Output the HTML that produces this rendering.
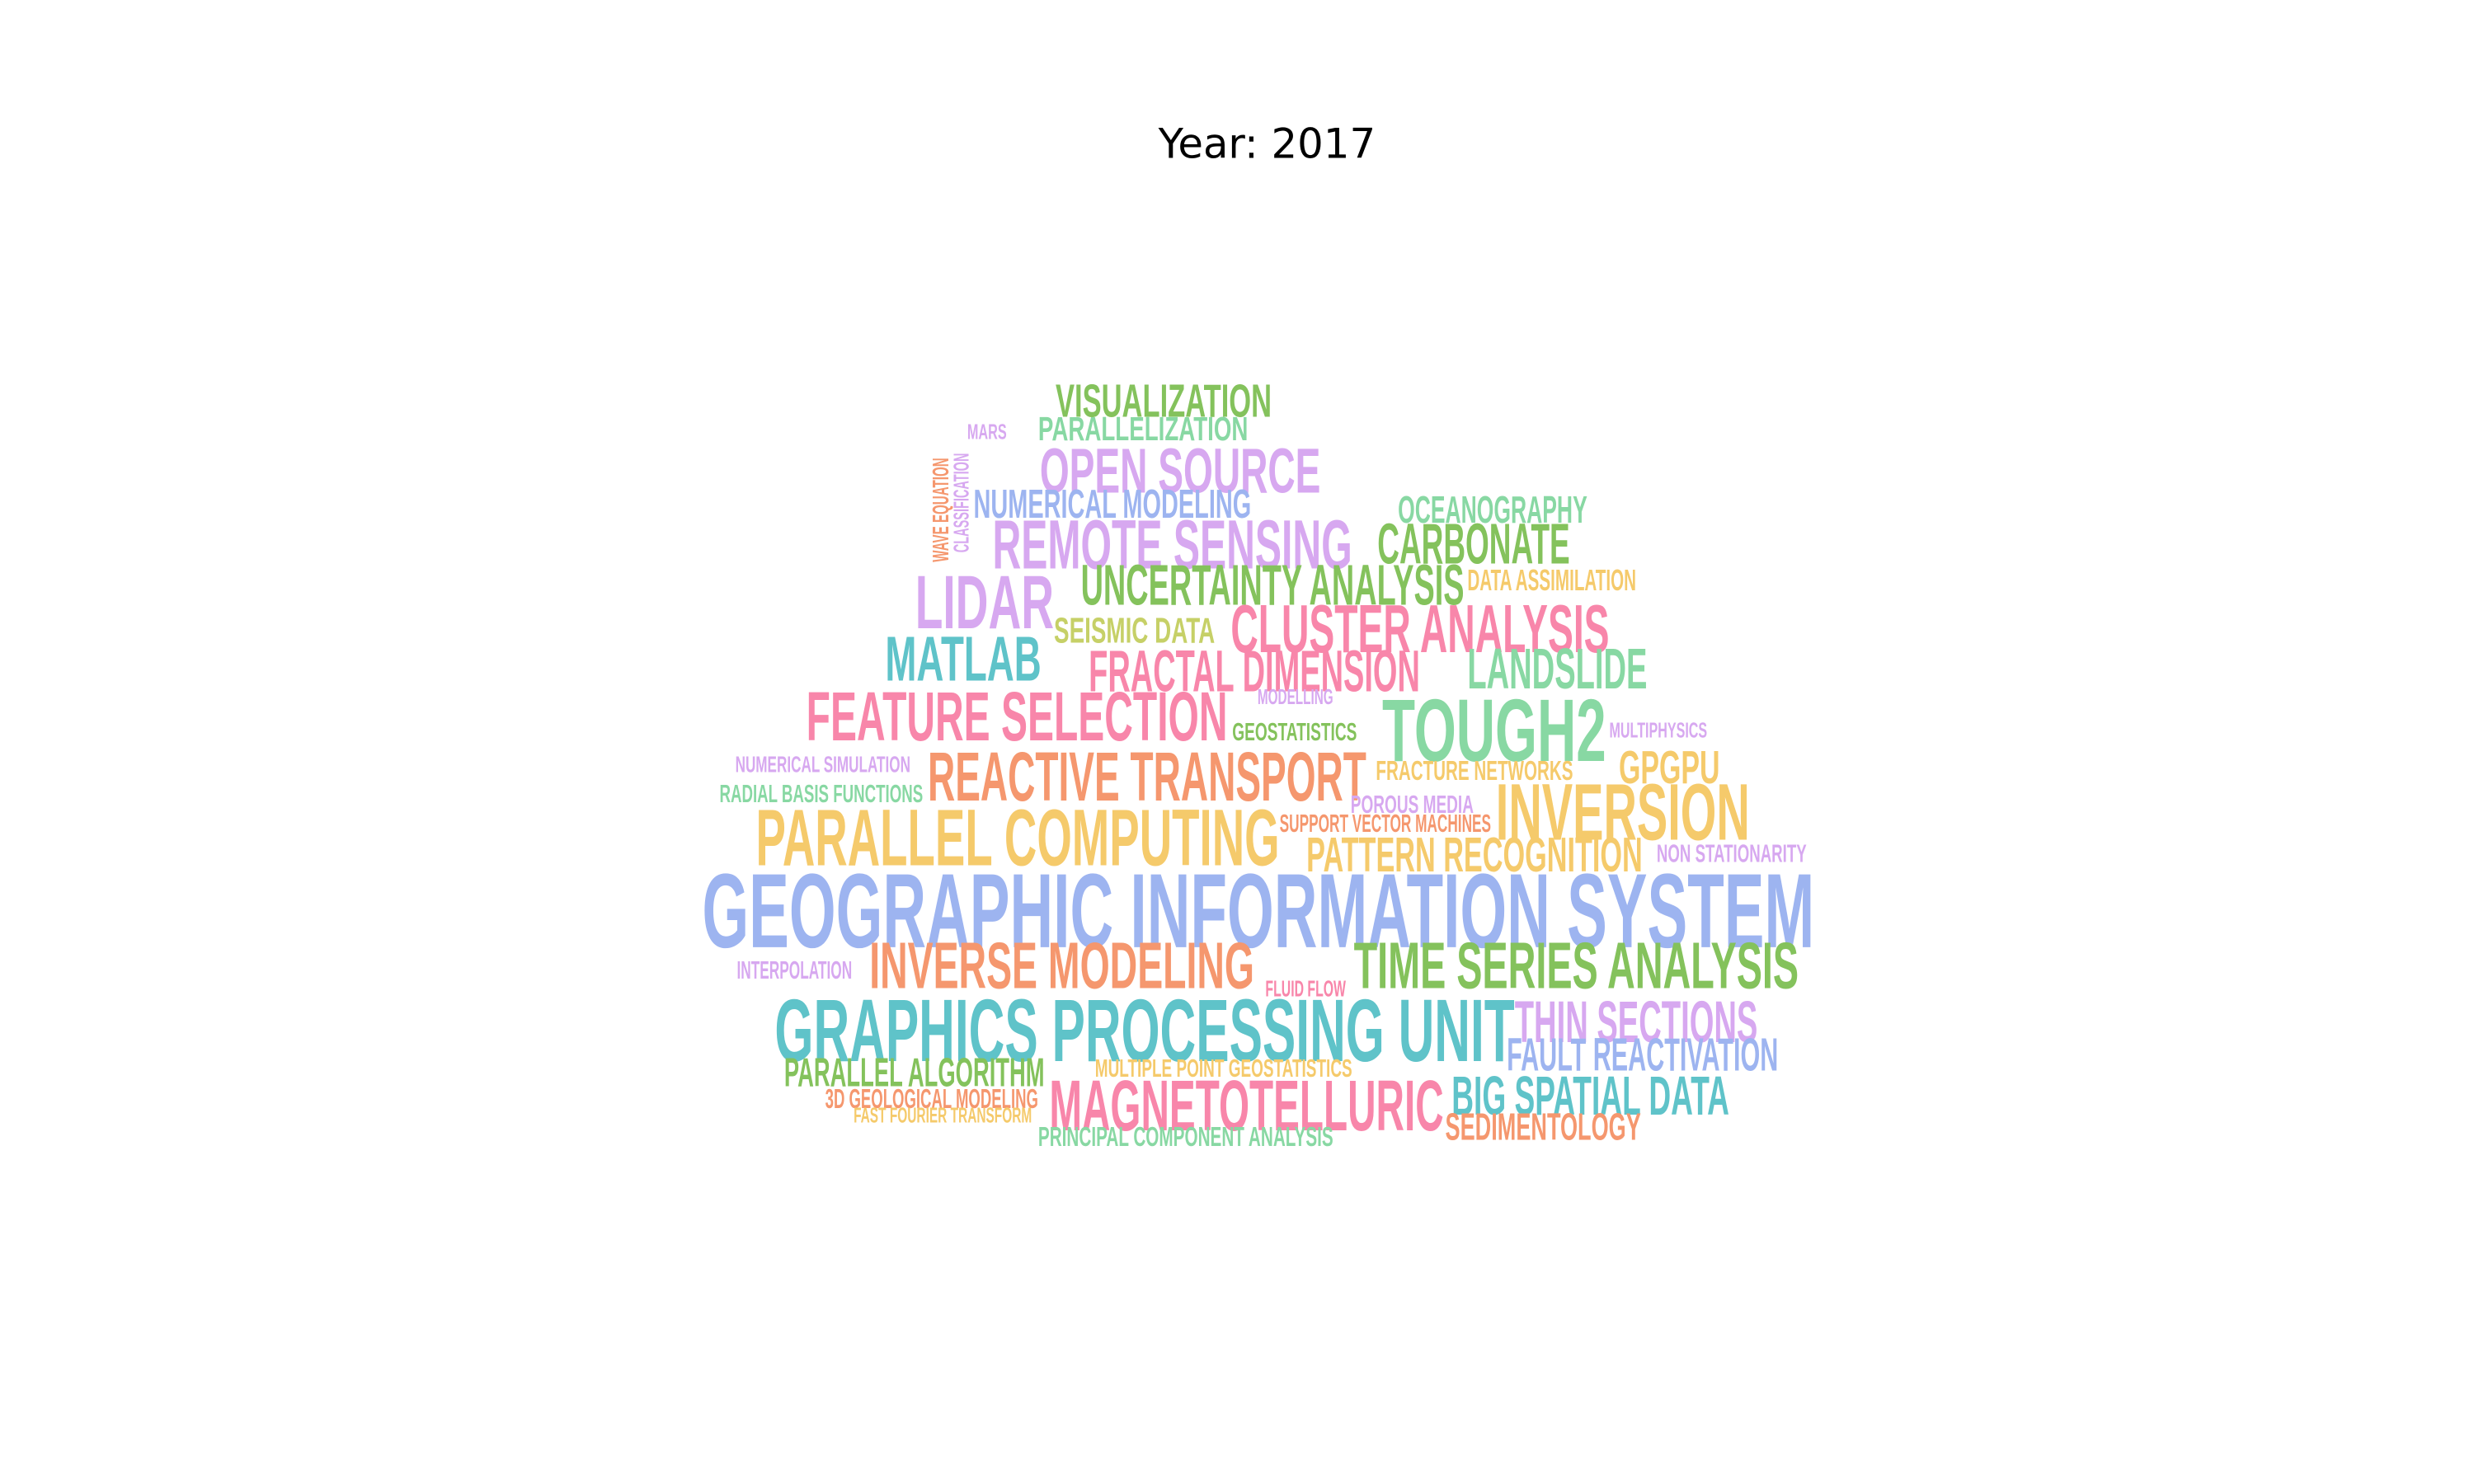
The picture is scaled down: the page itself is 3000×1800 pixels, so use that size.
<!DOCTYPE html>
<html><head><meta charset="utf-8">
<style>
html,body{margin:0;padding:0;background:#fff;}
svg{display:block;}
</style></head>
<body>
<svg id="chart" width="3000" height="1800" viewBox="0 0 1568 940" preserveAspectRatio="none" xmlns="http://www.w3.org/2000/svg">
<text x="803" y="100" text-anchor="middle" font-family="DejaVu Sans, sans-serif" font-size="26" fill="#000">Year: 2017</text>
<g id="words"></g>
</svg>
<script>
const words = ["VISUALIZATION","PARALLELIZATION","MARS","OPEN SOURCE","WAVE EQUATION","CLASSIFICATION","NUMERICAL MODELING","OCEANOGRAPHY","REMOTE SENSING","CARBONATE","UNCERTAINTY ANALYSIS","DATA ASSIMILATION","LIDAR","CLUSTER ANALYSIS","SEISMIC DATA","MATLAB","FRACTAL DIMENSION","LANDSLIDE","MODELLING","FEATURE SELECTION","TOUGH2","GEOSTATISTICS","MULTIPHYSICS","NUMERICAL SIMULATION","REACTIVE TRANSPORT","FRACTURE NETWORKS","GPGPU","RADIAL BASIS FUNCTIONS","POROUS MEDIA","INVERSION","PARALLEL COMPUTING","SUPPORT VECTOR MACHINES","PATTERN RECOGNITION","NON STATIONARITY","GEOGRAPHIC INFORMATION SYSTEM","INTERPOLATION","INVERSE MODELING","TIME SERIES ANALYSIS","FLUID FLOW","GRAPHICS PROCESSING UNIT","THIN SECTIONS","FAULT REACTIVATION","PARALLEL ALGORITHM","MULTIPLE POINT GEOSTATISTICS","MAGNETOTELLURIC","BIG SPATIAL DATA","3D GEOLOGICAL MODELING","FAST FOURIER TRANSFORM","SEDIMENTOLOGY","PRINCIPAL COMPONENT ANALYSIS"];
const colorKeys = ["green","lgreen","lilac","lilac","salmon","lilac","blue","lgreen","lilac","green","green","yellow","lilac","pink","ygreen","teal","pink","lgreen","lilac","pink","lgreen","green","lilac","lilac","salmon","yellow","yellow","lgreen","lilac","yellow","yellow","salmon","yellow","lilac","blue","lilac","salmon","green","pink","teal","lilac","blue","green","yellow","pink","teal","salmon","yellow","salmon","lgreen"];
const lefts   = [669,658,613,659,590,604,617,886,629,873,685,930,580,780,668,561,690,930,797,511,876,781,1020,466,588,872,1026,456,856,948,479,811,828,1050,445,467,551,858,802,491,960,955,497,694,665,920,523,541,916,658];
const rights  = [806,791,638,837,601,614,793,1006,857,995,928,1037,668,1020,770,660,900,1044,845,778,1018,860,1082,577,866,997,1090,585,934,1109,811,945,1041,1145,1150,540,795,1140,853,960,1114,1127,662,857,915,1096,658,654,1040,845];
const tops    = [242,263,268,282,290,287,309,313,327,330,356,360,362,381,390,401,410,409,436,436,440,457,457,478,474,481,474,496,503,494,510,515,529,534,550,608,595,595,620,630,632,656,669,670,682,680,689,701,704,713];
const bottoms = [264,279,278,312,356,350,328,331,360,357,383,374,398,413,407,431,438,436,446,469,482,469,467,489,507,494,496,508,515,532,548,527,552,546,600,620,626,626,631,672,660,678,688,682,716,706,702,711,722,726];
const vertical = ["WAVE EQUATION","CLASSIFICATION"];
const palette = {green:"#84c25c",lgreen:"#88d8a3",lilac:"#d7a8f0",blue:"#9db4f0",pink:"#f886aa",salmon:"#f5976e",yellow:"#f5ca6b",teal:"#5fc3c9",ygreen:"#c6d067"};

const g = document.getElementById('words');
const NS = "http://www.w3.org/2000/svg";
words.forEach((w,i)=>{
  const t = document.createElementNS(NS,'text');
  
  
  t.textContent = w;
  t.setAttribute('font-family','"Liberation Sans Narrow","Liberation Sans",sans-serif');
  t.setAttribute('font-weight','bold');
  t.setAttribute('fill', palette[colorKeys[i]]);
  t.setAttribute('lengthAdjust','spacingAndGlyphs');
  const isV = vertical.includes(w);
  if (!isV) {
    const h = bottoms[i]-tops[i];
    t.setAttribute('font-size', (h*1.34).toFixed(1));
    t.setAttribute('x', lefts[i]);
    t.setAttribute('y', bottoms[i]);
    t.setAttribute('textLength', rights[i]-lefts[i]);
  } else {
    const h = rights[i]-lefts[i];
    t.setAttribute('font-size', (h*1.34).toFixed(1));
    t.setAttribute('x', 0);
    t.setAttribute('y', 0);
    t.setAttribute('textLength', bottoms[i]-tops[i]);
    t.setAttribute('transform', 'translate(' + rights[i] + ',' + bottoms[i] + ') rotate(-90)');
  }
  g.appendChild(t);
});
</script>
</body></html>
